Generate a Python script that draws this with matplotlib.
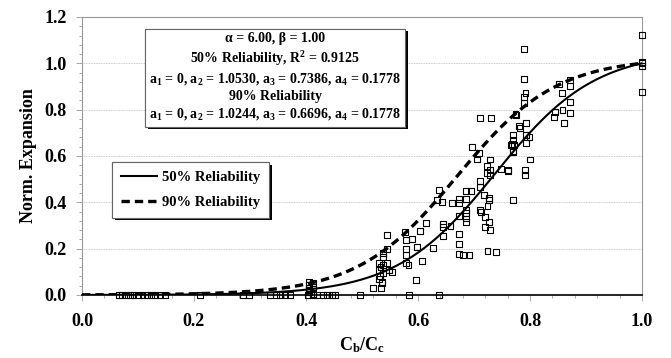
import numpy as np
from matplotlib import pyplot as plt, ticker
from matplotlib import patheffects

plt.rcParams['font.family'] = ['Liberation Serif', 'DejaVu Serif']
plt.rcParams['font.weight'] = 'bold'
plt.rcParams['axes.labelweight'] = 'bold'
plt.rcParams['mathtext.fontset'] = 'custom'
plt.rcParams['mathtext.rm'] = 'Liberation Serif:bold'
plt.rcParams['mathtext.it'] = 'Liberation Serif:bold:italic'
plt.rcParams['mathtext.bf'] = 'Liberation Serif:bold'
plt.rcParams['mathtext.default'] = 'rm'

# fitted model parameters (a1, a2, a3, a4)
params_50 = [0.0, 1.0530, 0.7386, 0.1778]
params_90 = [0.0, 1.0244, 0.6696, 0.1778]

# measured points, Cb/Cc vs normalised expansion
cb_cc = [
    0.066, 0.072, 0.078, 0.085, 0.092, 0.100, 0.108, 0.116, 0.124, 0.130,
    0.140, 0.148, 0.210, 0.288, 0.298, 0.336, 0.347, 0.354, 0.362, 0.371,
    0.404, 0.412, 0.420, 0.430, 0.438, 0.446, 0.452, 0.496, 0.584, 0.637,
    0.405, 0.405, 0.405, 0.405, 0.405, 0.412, 0.412, 0.413,
    0.519, 0.534, 0.536, 0.532, 0.538, 0.531, 0.533, 0.538, 0.531, 0.538,
    0.538, 0.545, 0.548, 0.544, 0.544, 0.554, 0.530, 0.535,
    0.577, 0.579, 0.579, 0.579, 0.579, 0.583, 0.589, 0.598, 0.604, 0.607,
    0.614, 0.596, 0.627,
    0.638, 0.634, 0.643, 0.644, 0.644, 0.644, 0.658, 0.660, 0.673, 0.673,
    0.673, 0.673, 0.673, 0.673, 0.681, 0.692, 0.685, 0.685, 0.686, 0.686,
    0.686, 0.686, 0.694, 0.696, 0.705, 0.709, 0.711, 0.711, 0.711, 0.713,
    0.718, 0.720, 0.720, 0.723, 0.723, 0.724, 0.726, 0.727, 0.727, 0.729,
    0.729, 0.729, 0.729, 0.724, 0.739, 0.748, 0.760, 0.760, 0.770, 0.766,
    0.769, 0.769, 0.769, 0.772, 0.782, 0.793, 0.793, 0.793, 0.799, 0.800,
    0.791, 0.791, 0.711, 0.730, 0.775, 0.780,
    0.790, 0.790, 0.792, 0.790, 0.790, 0.774, 0.768, 0.770,
    0.845, 0.843, 0.858, 0.861, 0.871, 0.871, 0.857, 0.852, 0.871, 0.871,
    1.000, 1.000, 1.000, 1.000, 1.000,
]
norm_exp = [
    0.0, 0.0, 0.0, 0.0, 0.0, 0.0, 0.0, 0.0, 0.0, 0.0,
    0.0, 0.0, 0.0, 0.0, 0.0, 0.0, 0.0, 0.0, 0.0, 0.0,
    0.0, 0.0, 0.0, 0.0, 0.0, 0.0, 0.0, 0.0, 0.0, 0.0,
    0.056, 0.043, 0.030, 0.013, 0.020, 0.050, 0.035, 0.005,
    0.032, 0.029, 0.057, 0.082, 0.095, 0.108, 0.120, 0.130, 0.140, 0.165,
    0.180, 0.140, 0.108, 0.200, 0.260, 0.100, 0.070, 0.050,
    0.273, 0.237, 0.200, 0.173, 0.137, 0.130, 0.240, 0.206, 0.276, 0.148,
    0.309, 0.065, 0.204,
    0.453, 0.410, 0.403, 0.306, 0.292, 0.256, 0.298, 0.398, 0.413, 0.398,
    0.342, 0.262, 0.219, 0.177, 0.174, 0.171, 0.449, 0.415, 0.367, 0.355,
    0.330, 0.316, 0.449, 0.640, 0.585, 0.611, 0.493, 0.468, 0.367, 0.360,
    0.432, 0.338, 0.292, 0.557, 0.525, 0.384, 0.410, 0.420, 0.316, 0.585,
    0.540, 0.518, 0.280, 0.191, 0.184, 0.544, 0.540, 0.535, 0.410, 0.647,
    0.669, 0.690, 0.618, 0.647, 0.720, 0.744, 0.690, 0.655, 0.680, 0.585,
    0.540, 0.518, 0.763, 0.763, 0.777, 0.730,
    1.060, 0.932, 0.873, 0.853, 0.827, 0.780, 0.650, 0.620,
    0.791, 0.770, 0.798, 0.744, 0.784, 0.834, 0.870, 0.910, 0.902, 0.928,
    1.122, 1.007, 1.000, 0.988, 0.877,
]


def expansion_model(x, a1, a2, a3, a4):
    """Hyperbolic tangent fit of normalised expansion."""
    return a1 + (a2 - a1) / 2.0 * (1.0 + np.tanh((x - a3) / a4))


fig = plt.figure(figsize=(6.71, 3.58), dpi=100)
ax = fig.add_axes([0.1222, 0.176, 0.8346, 0.7766])

ax.scatter(cb_cc, norm_exp, marker='s', s=18, facecolors='none',
           edgecolors='black', linewidths=0.8, zorder=3, clip_on=False)

x_fit = np.linspace(0, 1, 300)
ax.plot(x_fit, expansion_model(x_fit, *params_50), color='black', lw=1.5,
        label='50% Reliability', zorder=4)
ax.plot(x_fit, expansion_model(x_fit, *params_90), color='black', lw=2.4,
        ls=(0, (2.5, 1.5)), label='90% Reliability', zorder=4)

ax.set_xlim(0, 1)
ax.set_ylim(0, 1.2)
ax.xaxis.set_major_locator(ticker.MultipleLocator(0.2))
ax.xaxis.set_minor_locator(ticker.MultipleLocator(0.04))
ax.yaxis.set_major_locator(ticker.MultipleLocator(0.2))
ax.yaxis.set_minor_locator(ticker.MultipleLocator(0.04))
ax.xaxis.set_major_formatter(ticker.FormatStrFormatter('%.1f'))
ax.yaxis.set_major_formatter(ticker.FormatStrFormatter('%.1f'))
ax.tick_params(which='both', direction='out', color='#999999', width=0.6)
ax.tick_params(which='major', length=4, labelsize=13)
ax.tick_params(which='minor', length=2.5)
ax.tick_params(axis='x', pad=9)
ax.tick_params(axis='y', pad=7)
ax.grid(axis='y', which='major', color='#bbbbbb', lw=0.6, ls=(0, (1, 1)))

for side in ['top', 'right', 'left']:
    ax.spines[side].set_color('#999999')
    ax.spines[side].set_linewidth(0.8)
ax.spines['bottom'].set_color('black')
ax.spines['bottom'].set_linewidth(1.2)

ax.set_xlabel(r'C$_{\rm b}$/C$_{\rm c}$', fontsize=13, labelpad=4)
ax.set_ylabel('Norm. Expansion', fontsize=13, labelpad=5)

info = ('\u03b1 = 6.00, \u03b2 = 1.00\n'
        '50% Reliability, R$^2$ = 0.9125\n'
        'a$_1$ = 0, a$_2$ = 1.0530, a$_3$ = 0.7386, a$_4$ = 0.1778\n'
        '90% Reliability\n'
        'a$_1$ = 0, a$_2$ = 1.0244, a$_3$ = 0.6696, a$_4$ = 0.1778')
txt = fig.text(0.41, 0.785, info, ha='center', va='center', fontsize=10,
               linespacing=1.3,
               bbox=dict(boxstyle='square,pad=0.3', fc='white',
                         ec='#666666', lw=0.8))
txt.get_bbox_patch().set_path_effects([
    patheffects.withSimplePatchShadow(offset=(2, -1.5), shadow_rgbFace='black',
                                      alpha=1.0),
    patheffects.Normal()])

leg = ax.legend(loc='upper left', bbox_to_anchor=(0.054, 0.478), fontsize=10.5,
                frameon=True, fancybox=False, framealpha=1.0,
                borderaxespad=0, handlelength=2.5, handletextpad=0.3,
                borderpad=0.6, labelspacing=0.8, edgecolor='#666666')
leg.get_frame().set_linewidth(0.8)
leg.get_frame().set_path_effects([
    patheffects.withSimplePatchShadow(offset=(2, -2), shadow_rgbFace='black',
                                      alpha=1.0),
    patheffects.Normal()])

fig.savefig('out.png', dpi=100)
